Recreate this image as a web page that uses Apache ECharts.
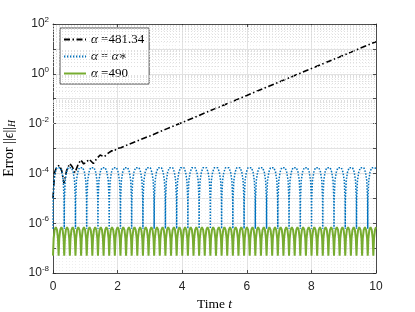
<!DOCTYPE html>
<html><head><meta charset="utf-8">
<script src="https://cdn.jsdelivr.net/npm/echarts@6/dist/echarts.min.js"></script>
<style>html,body{margin:0;padding:0;background:#fff}#c{width:415px;height:312px}</style>
</head><body><div id="c"></div>
<script>
// ---- data ----
const seriesNames = ['α =481.34', 'α = α*', 'α =490'];
const xTicks = [0, 2, 4, 6, 8, 10];
const yTickExponents = [-8, -6, -4, -2, 0, 2];

// alpha = 481.34 (black dash-dot)
const blackTime = [0, 0.05, 0.12, 0.2, 0.27, 0.34, 0.42, 0.52, 0.6, 0.68, 0.78, 0.86, 0.95, 1.03, 1.12, 1.25, 1.36, 1.46, 1.58, 1.71, 1.76, 1.82, 1.9, 1.97, 2.1, 2.33, 2.6, 3.0, 3.5, 4.0, 5.0, 6.0, 7.0, 8.0, 9.0, 10.0];
const blackError = [1e-5, 1.1e-4, 1.9e-4, 2.1e-4, 1.3e-4, 4e-5, 1.3e-4, 2.5e-4, 1.8e-4, 1.07e-4, 2.3e-4, 3.5e-4, 2.4e-4, 2.8e-4, 3.7e-4, 2.5e-4, 4.0e-4, 5.5e-4, 4.6e-4, 6.5e-4, 6.2e-4, 8.1e-4, 7.9e-4, 1.0e-3, 1.07e-3, 1.45e-3, 2.0e-3, 3.2e-3, 6.0e-3, 1.1e-2, 3.9e-2, 0.135, 0.47, 1.62, 5.6, 19.5];

// alpha = alpha* (blue dotted)
const blueData = [
[0,6e-7],[0.005,8.6e-6],[0.03,5.1e-5],[0.07,1.12e-4],[0.12,1.68e-4],[0.174,1.9e-4],[0.228,1.68e-4],[0.278,1.12e-4],[0.318,5.1e-5],[0.343,8.6e-6],
[0.348,6e-7],[0.353,8.6e-6],[0.378,5.1e-5],[0.418,1.12e-4],[0.468,1.68e-4],[0.522,1.9e-4],[0.576,1.68e-4],[0.626,1.12e-4],[0.666,5.1e-5],[0.691,8.6e-6],
[0.696,6e-7],[0.701,8.6e-6],[0.726,5.1e-5],[0.766,1.12e-4],[0.816,1.68e-4],[0.870,1.9e-4],[0.924,1.68e-4],[0.974,1.12e-4],[1.014,5.1e-5],[1.039,8.6e-6],
[1.044,6e-7],[1.049,8.6e-6],[1.074,5.1e-5],[1.114,1.12e-4],[1.164,1.68e-4],[1.218,1.9e-4],[1.272,1.68e-4],[1.322,1.12e-4],[1.362,5.1e-5],[1.387,8.6e-6],
[1.392,6e-7],[1.397,8.6e-6],[1.422,5.1e-5],[1.462,1.12e-4],[1.512,1.68e-4],[1.566,1.9e-4],[1.620,1.68e-4],[1.670,1.12e-4],[1.710,5.1e-5],[1.735,8.6e-6],
[1.740,6e-7],[1.745,8.6e-6],[1.770,5.1e-5],[1.810,1.12e-4],[1.860,1.68e-4],[1.914,1.9e-4],[1.968,1.68e-4],[2.018,1.12e-4],[2.058,5.1e-5],[2.083,8.6e-6],
[2.088,6e-7],[2.093,8.6e-6],[2.118,5.1e-5],[2.158,1.12e-4],[2.208,1.68e-4],[2.262,1.9e-4],[2.316,1.68e-4],[2.366,1.12e-4],[2.406,5.1e-5],[2.431,8.6e-6],
[2.436,6e-7],[2.441,8.6e-6],[2.466,5.1e-5],[2.506,1.12e-4],[2.556,1.68e-4],[2.610,1.9e-4],[2.664,1.68e-4],[2.714,1.12e-4],[2.754,5.1e-5],[2.779,8.6e-6],
[2.784,6e-7],[2.789,8.6e-6],[2.814,5.1e-5],[2.854,1.12e-4],[2.904,1.68e-4],[2.958,1.9e-4],[3.012,1.68e-4],[3.062,1.12e-4],[3.102,5.1e-5],[3.127,8.6e-6],
[3.132,6e-7],[3.137,8.6e-6],[3.162,5.1e-5],[3.202,1.12e-4],[3.252,1.68e-4],[3.306,1.9e-4],[3.360,1.68e-4],[3.410,1.12e-4],[3.450,5.1e-5],[3.475,8.6e-6],
[3.480,6e-7],[3.485,8.6e-6],[3.510,5.1e-5],[3.550,1.12e-4],[3.600,1.68e-4],[3.654,1.9e-4],[3.708,1.68e-4],[3.758,1.12e-4],[3.798,5.1e-5],[3.823,8.6e-6],
[3.828,6e-7],[3.833,8.6e-6],[3.858,5.1e-5],[3.898,1.12e-4],[3.948,1.68e-4],[4.002,1.9e-4],[4.056,1.68e-4],[4.106,1.12e-4],[4.146,5.1e-5],[4.171,8.6e-6],
[4.176,6e-7],[4.181,8.6e-6],[4.206,5.1e-5],[4.246,1.12e-4],[4.296,1.68e-4],[4.350,1.9e-4],[4.404,1.68e-4],[4.454,1.12e-4],[4.494,5.1e-5],[4.519,8.6e-6],
[4.524,6e-7],[4.529,8.6e-6],[4.554,5.1e-5],[4.594,1.12e-4],[4.644,1.68e-4],[4.698,1.9e-4],[4.752,1.68e-4],[4.802,1.12e-4],[4.842,5.1e-5],[4.867,8.6e-6],
[4.872,6e-7],[4.877,8.6e-6],[4.902,5.1e-5],[4.942,1.12e-4],[4.992,1.68e-4],[5.046,1.9e-4],[5.100,1.68e-4],[5.150,1.12e-4],[5.190,5.1e-5],[5.215,8.6e-6],
[5.220,6e-7],[5.225,8.6e-6],[5.250,5.1e-5],[5.290,1.12e-4],[5.340,1.68e-4],[5.394,1.9e-4],[5.448,1.68e-4],[5.498,1.12e-4],[5.538,5.1e-5],[5.563,8.6e-6],
[5.568,6e-7],[5.573,8.6e-6],[5.598,5.1e-5],[5.638,1.12e-4],[5.688,1.68e-4],[5.742,1.9e-4],[5.796,1.68e-4],[5.846,1.12e-4],[5.886,5.1e-5],[5.911,8.6e-6],
[5.916,6e-7],[5.921,8.6e-6],[5.946,5.1e-5],[5.986,1.12e-4],[6.036,1.68e-4],[6.090,1.9e-4],[6.144,1.68e-4],[6.194,1.12e-4],[6.234,5.1e-5],[6.259,8.6e-6],
[6.264,6e-7],[6.269,8.6e-6],[6.294,5.1e-5],[6.334,1.12e-4],[6.384,1.68e-4],[6.438,1.9e-4],[6.492,1.68e-4],[6.542,1.12e-4],[6.582,5.1e-5],[6.607,8.6e-6],
[6.612,6e-7],[6.617,8.6e-6],[6.642,5.1e-5],[6.682,1.12e-4],[6.732,1.68e-4],[6.786,1.9e-4],[6.840,1.68e-4],[6.890,1.12e-4],[6.930,5.1e-5],[6.955,8.6e-6],
[6.960,6e-7],[6.965,8.6e-6],[6.990,5.1e-5],[7.030,1.12e-4],[7.080,1.68e-4],[7.134,1.9e-4],[7.188,1.68e-4],[7.238,1.12e-4],[7.278,5.1e-5],[7.303,8.6e-6],
[7.308,6e-7],[7.313,8.6e-6],[7.338,5.1e-5],[7.378,1.12e-4],[7.428,1.68e-4],[7.482,1.9e-4],[7.536,1.68e-4],[7.586,1.12e-4],[7.626,5.1e-5],[7.651,8.6e-6],
[7.656,6e-7],[7.661,8.6e-6],[7.686,5.1e-5],[7.726,1.12e-4],[7.776,1.68e-4],[7.830,1.9e-4],[7.884,1.68e-4],[7.934,1.12e-4],[7.974,5.1e-5],[7.999,8.6e-6],
[8.004,6e-7],[8.009,8.6e-6],[8.034,5.1e-5],[8.074,1.12e-4],[8.124,1.68e-4],[8.178,1.9e-4],[8.232,1.68e-4],[8.282,1.12e-4],[8.322,5.1e-5],[8.347,8.6e-6],
[8.352,6e-7],[8.357,8.6e-6],[8.382,5.1e-5],[8.422,1.12e-4],[8.472,1.68e-4],[8.526,1.9e-4],[8.580,1.68e-4],[8.630,1.12e-4],[8.670,5.1e-5],[8.695,8.6e-6],
[8.700,6e-7],[8.705,8.6e-6],[8.730,5.1e-5],[8.770,1.12e-4],[8.820,1.68e-4],[8.874,1.9e-4],[8.928,1.68e-4],[8.978,1.12e-4],[9.018,5.1e-5],[9.043,8.6e-6],
[9.048,6e-7],[9.053,8.6e-6],[9.078,5.1e-5],[9.118,1.12e-4],[9.168,1.68e-4],[9.222,1.9e-4],[9.276,1.68e-4],[9.326,1.12e-4],[9.366,5.1e-5],[9.391,8.6e-6],
[9.396,6e-7],[9.401,8.6e-6],[9.426,5.1e-5],[9.466,1.12e-4],[9.516,1.68e-4],[9.570,1.9e-4],[9.624,1.68e-4],[9.674,1.12e-4],[9.714,5.1e-5],[9.739,8.6e-6],
[9.744,6e-7],[9.749,8.6e-6],[9.774,5.1e-5],[9.814,1.12e-4],[9.864,1.68e-4],[9.918,1.9e-4],[9.972,1.68e-4],[10.0,1.40e-4]
];

// alpha = 490 (green solid)
const greenData = [
[0,5e-8],[0.02,2.44e-7],[0.05,5.4e-7],[0.087,6.9e-7],[0.124,5.4e-7],[0.154,2.44e-7],
[0.174,5e-8],[0.194,2.44e-7],[0.224,5.4e-7],[0.261,6.9e-7],[0.298,5.4e-7],[0.328,2.44e-7],
[0.348,5e-8],[0.368,2.44e-7],[0.398,5.4e-7],[0.435,6.9e-7],[0.472,5.4e-7],[0.502,2.44e-7],
[0.522,5e-8],[0.542,2.44e-7],[0.572,5.4e-7],[0.609,6.9e-7],[0.646,5.4e-7],[0.676,2.44e-7],
[0.696,5e-8],[0.716,2.44e-7],[0.746,5.4e-7],[0.783,6.9e-7],[0.820,5.4e-7],[0.850,2.44e-7],
[0.870,5e-8],[0.890,2.44e-7],[0.920,5.4e-7],[0.957,6.9e-7],[0.994,5.4e-7],[1.024,2.44e-7],
[1.044,5e-8],[1.064,2.44e-7],[1.094,5.4e-7],[1.131,6.9e-7],[1.168,5.4e-7],[1.198,2.44e-7],
[1.218,5e-8],[1.238,2.44e-7],[1.268,5.4e-7],[1.305,6.9e-7],[1.342,5.4e-7],[1.372,2.44e-7],
[1.392,5e-8],[1.412,2.44e-7],[1.442,5.4e-7],[1.479,6.9e-7],[1.516,5.4e-7],[1.546,2.44e-7],
[1.566,5e-8],[1.586,2.44e-7],[1.616,5.4e-7],[1.653,6.9e-7],[1.690,5.4e-7],[1.720,2.44e-7],
[1.740,5e-8],[1.760,2.44e-7],[1.790,5.4e-7],[1.827,6.9e-7],[1.864,5.4e-7],[1.894,2.44e-7],
[1.914,5e-8],[1.934,2.44e-7],[1.964,5.4e-7],[2.001,6.9e-7],[2.038,5.4e-7],[2.068,2.44e-7],
[2.088,5e-8],[2.108,2.44e-7],[2.138,5.4e-7],[2.175,6.9e-7],[2.212,5.4e-7],[2.242,2.44e-7],
[2.262,5e-8],[2.282,2.44e-7],[2.312,5.4e-7],[2.349,6.9e-7],[2.386,5.4e-7],[2.416,2.44e-7],
[2.436,5e-8],[2.456,2.44e-7],[2.486,5.4e-7],[2.523,6.9e-7],[2.560,5.4e-7],[2.590,2.44e-7],
[2.610,5e-8],[2.630,2.44e-7],[2.660,5.4e-7],[2.697,6.9e-7],[2.734,5.4e-7],[2.764,2.44e-7],
[2.784,5e-8],[2.804,2.44e-7],[2.834,5.4e-7],[2.871,6.9e-7],[2.908,5.4e-7],[2.938,2.44e-7],
[2.958,5e-8],[2.978,2.44e-7],[3.008,5.4e-7],[3.045,6.9e-7],[3.082,5.4e-7],[3.112,2.44e-7],
[3.132,5e-8],[3.152,2.44e-7],[3.182,5.4e-7],[3.219,6.9e-7],[3.256,5.4e-7],[3.286,2.44e-7],
[3.306,5e-8],[3.326,2.44e-7],[3.356,5.4e-7],[3.393,6.9e-7],[3.430,5.4e-7],[3.460,2.44e-7],
[3.480,5e-8],[3.500,2.44e-7],[3.530,5.4e-7],[3.567,6.9e-7],[3.604,5.4e-7],[3.634,2.44e-7],
[3.654,5e-8],[3.674,2.44e-7],[3.704,5.4e-7],[3.741,6.9e-7],[3.778,5.4e-7],[3.808,2.44e-7],
[3.828,5e-8],[3.848,2.44e-7],[3.878,5.4e-7],[3.915,6.9e-7],[3.952,5.4e-7],[3.982,2.44e-7],
[4.002,5e-8],[4.022,2.44e-7],[4.052,5.4e-7],[4.089,6.9e-7],[4.126,5.4e-7],[4.156,2.44e-7],
[4.176,5e-8],[4.196,2.44e-7],[4.226,5.4e-7],[4.263,6.9e-7],[4.300,5.4e-7],[4.330,2.44e-7],
[4.350,5e-8],[4.370,2.44e-7],[4.400,5.4e-7],[4.437,6.9e-7],[4.474,5.4e-7],[4.504,2.44e-7],
[4.524,5e-8],[4.544,2.44e-7],[4.574,5.4e-7],[4.611,6.9e-7],[4.648,5.4e-7],[4.678,2.44e-7],
[4.698,5e-8],[4.718,2.44e-7],[4.748,5.4e-7],[4.785,6.9e-7],[4.822,5.4e-7],[4.852,2.44e-7],
[4.872,5e-8],[4.892,2.44e-7],[4.922,5.4e-7],[4.959,6.9e-7],[4.996,5.4e-7],[5.026,2.44e-7],
[5.046,5e-8],[5.066,2.44e-7],[5.096,5.4e-7],[5.133,6.9e-7],[5.170,5.4e-7],[5.200,2.44e-7],
[5.220,5e-8],[5.240,2.44e-7],[5.270,5.4e-7],[5.307,6.9e-7],[5.344,5.4e-7],[5.374,2.44e-7],
[5.394,5e-8],[5.414,2.44e-7],[5.444,5.4e-7],[5.481,6.9e-7],[5.518,5.4e-7],[5.548,2.44e-7],
[5.568,5e-8],[5.588,2.44e-7],[5.618,5.4e-7],[5.655,6.9e-7],[5.692,5.4e-7],[5.722,2.44e-7],
[5.742,5e-8],[5.762,2.44e-7],[5.792,5.4e-7],[5.829,6.9e-7],[5.866,5.4e-7],[5.896,2.44e-7],
[5.916,5e-8],[5.936,2.44e-7],[5.966,5.4e-7],[6.003,6.9e-7],[6.040,5.4e-7],[6.070,2.44e-7],
[6.090,5e-8],[6.110,2.44e-7],[6.140,5.4e-7],[6.177,6.9e-7],[6.214,5.4e-7],[6.244,2.44e-7],
[6.264,5e-8],[6.284,2.44e-7],[6.314,5.4e-7],[6.351,6.9e-7],[6.388,5.4e-7],[6.418,2.44e-7],
[6.438,5e-8],[6.458,2.44e-7],[6.488,5.4e-7],[6.525,6.9e-7],[6.562,5.4e-7],[6.592,2.44e-7],
[6.612,5e-8],[6.632,2.44e-7],[6.662,5.4e-7],[6.699,6.9e-7],[6.736,5.4e-7],[6.766,2.44e-7],
[6.786,5e-8],[6.806,2.44e-7],[6.836,5.4e-7],[6.873,6.9e-7],[6.910,5.4e-7],[6.940,2.44e-7],
[6.960,5e-8],[6.980,2.44e-7],[7.010,5.4e-7],[7.047,6.9e-7],[7.084,5.4e-7],[7.114,2.44e-7],
[7.134,5e-8],[7.154,2.44e-7],[7.184,5.4e-7],[7.221,6.9e-7],[7.258,5.4e-7],[7.288,2.44e-7],
[7.308,5e-8],[7.328,2.44e-7],[7.358,5.4e-7],[7.395,6.9e-7],[7.432,5.4e-7],[7.462,2.44e-7],
[7.482,5e-8],[7.502,2.44e-7],[7.532,5.4e-7],[7.569,6.9e-7],[7.606,5.4e-7],[7.636,2.44e-7],
[7.656,5e-8],[7.676,2.44e-7],[7.706,5.4e-7],[7.743,6.9e-7],[7.780,5.4e-7],[7.810,2.44e-7],
[7.830,5e-8],[7.850,2.44e-7],[7.880,5.4e-7],[7.917,6.9e-7],[7.954,5.4e-7],[7.984,2.44e-7],
[8.004,5e-8],[8.024,2.44e-7],[8.054,5.4e-7],[8.091,6.9e-7],[8.128,5.4e-7],[8.158,2.44e-7],
[8.178,5e-8],[8.198,2.44e-7],[8.228,5.4e-7],[8.265,6.9e-7],[8.302,5.4e-7],[8.332,2.44e-7],
[8.352,5e-8],[8.372,2.44e-7],[8.402,5.4e-7],[8.439,6.9e-7],[8.476,5.4e-7],[8.506,2.44e-7],
[8.526,5e-8],[8.546,2.44e-7],[8.576,5.4e-7],[8.613,6.9e-7],[8.650,5.4e-7],[8.680,2.44e-7],
[8.700,5e-8],[8.720,2.44e-7],[8.750,5.4e-7],[8.787,6.9e-7],[8.824,5.4e-7],[8.854,2.44e-7],
[8.874,5e-8],[8.894,2.44e-7],[8.924,5.4e-7],[8.961,6.9e-7],[8.998,5.4e-7],[9.028,2.44e-7],
[9.048,5e-8],[9.068,2.44e-7],[9.098,5.4e-7],[9.135,6.9e-7],[9.172,5.4e-7],[9.202,2.44e-7],
[9.222,5e-8],[9.242,2.44e-7],[9.272,5.4e-7],[9.309,6.9e-7],[9.346,5.4e-7],[9.376,2.44e-7],
[9.396,5e-8],[9.416,2.44e-7],[9.446,5.4e-7],[9.483,6.9e-7],[9.520,5.4e-7],[9.550,2.44e-7],
[9.570,5e-8],[9.590,2.44e-7],[9.620,5.4e-7],[9.657,6.9e-7],[9.694,5.4e-7],[9.724,2.44e-7],
[9.744,5e-8],[9.764,2.44e-7],[9.794,5.4e-7],[9.831,6.9e-7],[9.868,5.4e-7],[9.898,2.44e-7],
[9.918,5e-8],[9.938,2.44e-7],[9.968,5.4e-7],[10.0,6.9e-7]
];

// minor grid values of the log axis (2..9 x 10^k)
const minorGridValues = [];
for (let e = -8; e < 2; e++) for (let m = 2; m <= 9; m++) minorGridValues.push(m * Math.pow(10, e));

// ---- chart ----
const SERIF = '"Liberation Serif", "DejaVu Serif", serif';
const SANS = '"Liberation Sans", Arial, sans-serif';
const AX = '#262626';
const chart = echarts.init(document.getElementById('c'), null, {renderer: 'canvas'});

const blackData = blackTime.map((t, i) => [t, blackError[i]]);

function yLabel(v) {
  const e = Math.round(Math.log10(v));
  if (yTickExponents.indexOf(e) < 0) return '';
  return '{b|10}{s|' + e + '}';
}

const option = {
  animation: false,
  backgroundColor: '#fff',
  grid: {left: 53, right: 39, top: 24, bottom: 39, outerBoundsMode: 'none', containLabel: false},
  legend: {
    data: seriesNames,
    orient: 'vertical', left: 60, top: 28,
    padding: [5, 5, 4, 3], itemGap: 4, itemWidth: 22, itemHeight: 12,
    borderColor: AX, borderWidth: 0.8, backgroundColor: '#fff',
    itemStyle: {opacity: 0},
    formatter: function (n) {
      if (n === seriesNames[0]) return '{i|α} =481.34';
      if (n === seriesNames[1]) return '{i|α} = {i|α}∗';
      return '{i|α} =490';
    },
    textStyle: {fontFamily: SERIF, fontSize: 13, color: '#000',
      rich: {i: {fontFamily: SERIF, fontStyle: 'italic', fontSize: 13, color: '#000'}}}
  },
  xAxis: [{
    type: 'value', min: 0, max: 10, interval: 2, position: 'bottom',
    name: '{n|Time }{i|t}', nameLocation: 'middle', nameGap: 20,
    nameTextStyle: {rich: {n: {fontFamily: SERIF, fontSize: 13.5, color: '#000'}, i: {fontFamily: SERIF, fontStyle: 'italic', fontSize: 13.5, color: '#000'}}},
    axisLine: {show: true, onZero: false, lineStyle: {color: AX, width: 0.8}},
    axisTick: {show: true, inside: true, length: 3, lineStyle: {color: AX, width: 0.8}},
    axisLabel: {fontFamily: SANS, fontSize: 12, color: AX, margin: 8,
      formatter: v => (xTicks.indexOf(v) >= 0 ? String(v) : '')},
    splitLine: {show: true, lineStyle: {color: '#e2e2e2', width: 1}},
    minorTick: {show: false, splitNumber: 20},
    minorSplitLine: {show: true, lineStyle: {color: '#eeeeee', width: 1, type: [1, 2]}}
  }, {
    type: 'value', min: 0, max: 10, interval: 2, position: 'top',
    axisLine: {show: true, onZero: false, lineStyle: {color: AX, width: 0.8}},
    axisTick: {show: true, inside: true, length: 3, lineStyle: {color: AX, width: 0.8}},
    axisLabel: {show: false}, splitLine: {show: false}
  }],
  yAxis: [{
    type: 'log', logBase: 10, min: 1e-8, max: 1e2, interval: 1, position: 'left',
    name: '{n|Error ||}{i|ϵ}{n|||}{sub|H}', nameLocation: 'middle', nameGap: 33,
    nameTextStyle: {rich: {
      n: {fontFamily: SERIF, fontSize: 14, color: '#000'},
      i: {fontFamily: SERIF, fontStyle: 'italic', fontSize: 14, color: '#000'},
      sub: {fontFamily: SERIF, fontStyle: 'italic', fontSize: 9.5, color: '#000', padding: [6, 0, 0, 0]}}},
    axisLine: {show: true, onZero: false, lineStyle: {color: AX, width: 0.8}},
    axisTick: {show: true, inside: true, length: 3, lineStyle: {color: AX, width: 0.8}},
    axisLabel: {formatter: yLabel, margin: 4, color: AX, showMinLabel: true, showMaxLabel: true,
      rich: {b: {fontFamily: SANS, fontSize: 12, color: AX},
             s: {fontFamily: SANS, fontSize: 8, color: AX, padding: [0, 0, 8, 0]}}},
    splitLine: {show: true, lineStyle: {color: '#e2e2e2', width: 1}}
  }, {
    type: 'log', logBase: 10, min: 1e-8, max: 1e2, interval: 1, position: 'right',
    axisLine: {show: true, onZero: false, lineStyle: {color: AX, width: 0.8}},
    axisTick: {show: true, inside: true, length: 3, lineStyle: {color: AX, width: 0.8}},
    axisLabel: {show: false}, splitLine: {show: false}
  }],
  series: [
    {
      name: 'minorGrid', type: 'line', data: [], z: 1, silent: true,
      markLine: {silent: true, symbol: 'none', label: {show: false}, animation: false,
        lineStyle: {color: '#d6d6d6', width: 0.8, type: [1, 2]},
        data: minorGridValues.map(v => ({yAxis: v}))}
    },
    {
      name: seriesNames[0], type: 'line', data: blackData, symbol: 'none', z: 3,
      lineStyle: {color: '#000', width: 1.6, type: [6, 2.5, 1.5, 2.5]}, itemStyle: {color: '#000'}
    },
    {
      name: seriesNames[1], type: 'line', data: blueData, symbol: 'none', z: 3,
      lineStyle: {color: '#0072BD', width: 1.5, type: [1.5, 1.5]}, itemStyle: {color: '#0072BD'}
    },
    {
      name: seriesNames[2], type: 'line', data: greenData, symbol: 'none', z: 3,
      lineStyle: {color: '#77AC30', width: 2}, itemStyle: {color: '#77AC30'}
    }
  ]
};
chart.setOption(option);
</script></body></html>
